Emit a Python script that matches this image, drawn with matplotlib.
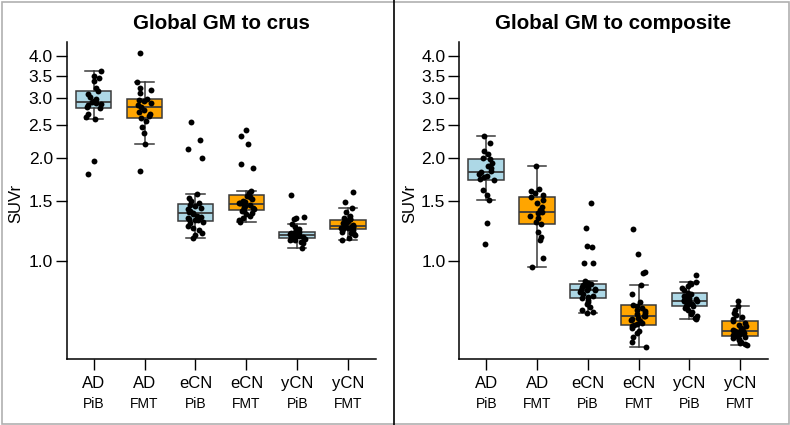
import numpy as np
import matplotlib
matplotlib.use("Agg")
import matplotlib.pyplot as plt
from matplotlib.lines import Line2D
from matplotlib.patches import Rectangle
from matplotlib.ticker import FixedLocator, NullLocator, FormatStrFormatter

plt.rcParams["font.family"] = ["Liberation Sans", "DejaVu Sans"]

GROUPS = ["AD", "AD", "eCN", "eCN", "yCN", "yCN"]
TRACERS = ["PiB", "FMT", "PiB", "FMT", "PiB", "FMT"]
COLORS = ["#add8e6", "#ffa500"] * 3
YTICKS = [1.0, 1.5, 2.0, 2.5, 3.0, 3.5, 4.0]
TITLES = ["Global GM to crus", "Global GM to composite"]

# SUVr values, one list per box
crus_ad_pib = [1.80, 1.96, 2.61, 2.64, 2.70, 2.81, 2.83, 2.86, 2.88, 2.91, 2.93,
               2.95, 2.98, 3.02, 3.10, 3.16, 3.21, 3.38, 3.44, 3.48, 3.60]
crus_ad_fmt = [1.84, 2.20, 2.38, 2.47, 2.58, 2.62, 2.66, 2.70, 2.74, 2.78, 2.83,
               2.86, 2.90, 2.94, 2.97, 2.99, 3.12, 3.17, 3.22, 3.36, 4.07]
crus_ecn_pib = [1.17, 1.19, 1.21, 1.23, 1.25, 1.27, 1.29, 1.305, 1.315, 1.32,
                1.33, 1.34, 1.35, 1.36, 1.375, 1.385, 1.39, 1.40, 1.42, 1.43,
                1.45, 1.465, 1.475, 1.50, 1.53, 1.57, 2.01, 2.13, 2.27, 2.56]
crus_ecn_fmt = [1.30, 1.32, 1.34, 1.36, 1.37, 1.38, 1.40, 1.405, 1.415, 1.42,
                1.43, 1.44, 1.45, 1.46, 1.465, 1.475, 1.48, 1.49, 1.50, 1.52,
                1.54, 1.555, 1.565, 1.58, 1.60, 1.87, 1.93, 2.21, 2.32, 2.42]
crus_ycn_pib = [1.095, 1.13, 1.14, 1.15, 1.155, 1.16, 1.163, 1.165, 1.17, 1.173,
                1.177, 1.18, 1.184, 1.187, 1.189, 1.191, 1.195, 1.198, 1.202, 1.206,
                1.21, 1.213, 1.217, 1.24, 1.26, 1.28, 1.33, 1.34, 1.35, 1.56]
crus_ycn_fmt = [1.15, 1.17, 1.19, 1.20, 1.21, 1.22, 1.23, 1.238, 1.243, 1.248,
                1.252, 1.256, 1.26, 1.264, 1.268, 1.272, 1.277, 1.283, 1.29, 1.30,
                1.31, 1.318, 1.325, 1.33, 1.34, 1.36, 1.39, 1.43, 1.49, 1.59]

comp_ad_pib = [1.12, 1.29, 1.51, 1.56, 1.62, 1.73, 1.74, 1.76, 1.78, 1.80, 1.82,
               1.84, 1.87, 1.90, 1.94, 1.99, 2.01, 2.06, 2.10, 2.22, 2.32]
comp_ad_fmt = [0.962, 1.02, 1.15, 1.18, 1.22, 1.28, 1.30, 1.34, 1.36, 1.38, 1.393,
               1.41, 1.44, 1.48, 1.51, 1.545, 1.56, 1.58, 1.60, 1.63, 1.90]
comp_ecn_pib = [0.702, 0.71, 0.72, 0.735, 0.75, 0.76, 0.77, 0.778, 0.782, 0.79,
                0.80, 0.81, 0.815, 0.82, 0.821, 0.823, 0.83, 0.835, 0.84, 0.845,
                0.85, 0.856, 0.86, 0.874, 0.985, 0.99, 1.10, 1.105, 1.25, 1.477]
comp_ecn_fmt = [0.56, 0.58, 0.60, 0.615, 0.625, 0.635, 0.645, 0.65, 0.655, 0.66,
                0.665, 0.67, 0.675, 0.68, 0.688, 0.692, 0.70, 0.705, 0.715, 0.72,
                0.73, 0.74, 0.745, 0.76, 0.80, 0.852, 0.924, 0.926, 1.046, 1.24]
comp_ycn_pib = [0.675, 0.68, 0.69, 0.70, 0.71, 0.72, 0.73, 0.736, 0.74, 0.745,
                0.75, 0.755, 0.758, 0.762, 0.764, 0.766, 0.77, 0.775, 0.78, 0.785,
                0.79, 0.80, 0.805, 0.82, 0.835, 0.845, 0.855, 0.86, 0.866, 0.91]
comp_ycn_fmt = [0.567, 0.57, 0.575, 0.58, 0.585, 0.59, 0.595, 0.60, 0.603, 0.606,
                0.61, 0.613, 0.616, 0.62, 0.622, 0.624, 0.628, 0.632, 0.637, 0.643,
                0.65, 0.66, 0.667, 0.675, 0.685, 0.695, 0.705, 0.72, 0.738, 0.765]

PANELS = [
    [crus_ad_pib, crus_ad_fmt, crus_ecn_pib, crus_ecn_fmt, crus_ycn_pib, crus_ycn_fmt],
    [comp_ad_pib, comp_ad_fmt, comp_ecn_pib, comp_ecn_fmt, comp_ycn_pib, comp_ycn_fmt],
]

W, H = 790, 425
fig = plt.figure(figsize=(W / 100, H / 100), dpi=100)

rng = np.random.default_rng(11)  # jitter only (x offsets)

positions = np.arange(1, 7)
ax_rects = [[66.7, 375.7], [459.3, 767.7]]
for k, (data, title) in enumerate(zip(PANELS, TITLES)):
    x0, x1 = ax_rects[k]
    ax = fig.add_axes([x0 / W, 1 - 358.7 / H, (x1 - x0) / W, (358.7 - 41.7) / H])
    dark = "#3a3a3a"
    bp = ax.boxplot(data, positions=positions, widths=0.7, patch_artist=True,
                    showfliers=False, whis=1.5,
                    boxprops=dict(edgecolor=dark, linewidth=1.1),
                    medianprops=dict(color=dark, linewidth=1.3),
                    whiskerprops=dict(color=dark, linewidth=1.1),
                    capprops=dict(color=dark, linewidth=1.1))
    for patch, c in zip(bp["boxes"], COLORS):
        patch.set_facecolor(c)
    for cap in bp["caps"]:
        mid = cap.get_xdata().mean()
        cap.set_xdata([mid - 0.18, mid + 0.18])
    for pos, vals in zip(positions, data):
        xs = pos + rng.uniform(-0.15, 0.15, len(vals))
        ax.scatter(xs, vals, s=18, color="black", zorder=5, linewidths=0)

    ax.set_yscale("log")
    ax.set_ylim(0.517, 4.40)
    ax.set_xlim(0.47, 6.54)
    ax.yaxis.set_major_locator(FixedLocator(YTICKS))
    ax.yaxis.set_major_formatter(FormatStrFormatter("%.1f"))
    ax.yaxis.set_minor_locator(NullLocator())
    ax.set_xticks(positions)
    ax.set_xticklabels([])
    for s in ["top", "right"]:
        ax.spines[s].set_visible(False)
    for s in ["left", "bottom"]:
        ax.spines[s].set_linewidth(1.1)
    ax.tick_params(axis="both", direction="out", length=8, width=1.0,
                   labelsize=12.5, pad=2)
    for pos, g, t in zip(positions, GROUPS, TRACERS):
        ax.text(pos, -0.077, g, transform=ax.get_xaxis_transform(),
                ha="center", va="center", fontsize=12)
        ax.text(pos, -0.143, t, transform=ax.get_xaxis_transform(),
                ha="center", va="center", fontsize=10)

    cx = (x0 + x1) / 2 / W
    fig.text(cx, 1 - 29 / H, title, ha="center", va="baseline",
             fontsize=14.8, fontweight="bold")
    lx = (16 if k == 0 else 410) / W
    fig.text(lx, 1 - 203 / H, "SUVr", rotation=90, ha="center", va="center",
             fontsize=12)

# panel frames and divider
fig.patches.append(Rectangle((1.5 / W, 1.5 / H), (W - 3) / W, (H - 3) / H,
                             transform=fig.transFigure, fill=False,
                             edgecolor="#b0b0b0", linewidth=1.2))
fig.lines.append(Line2D([394 / W, 394 / W], [0, 1], transform=fig.transFigure,
                        color="black", linewidth=1.2))

fig.savefig("out.png", dpi=100)
